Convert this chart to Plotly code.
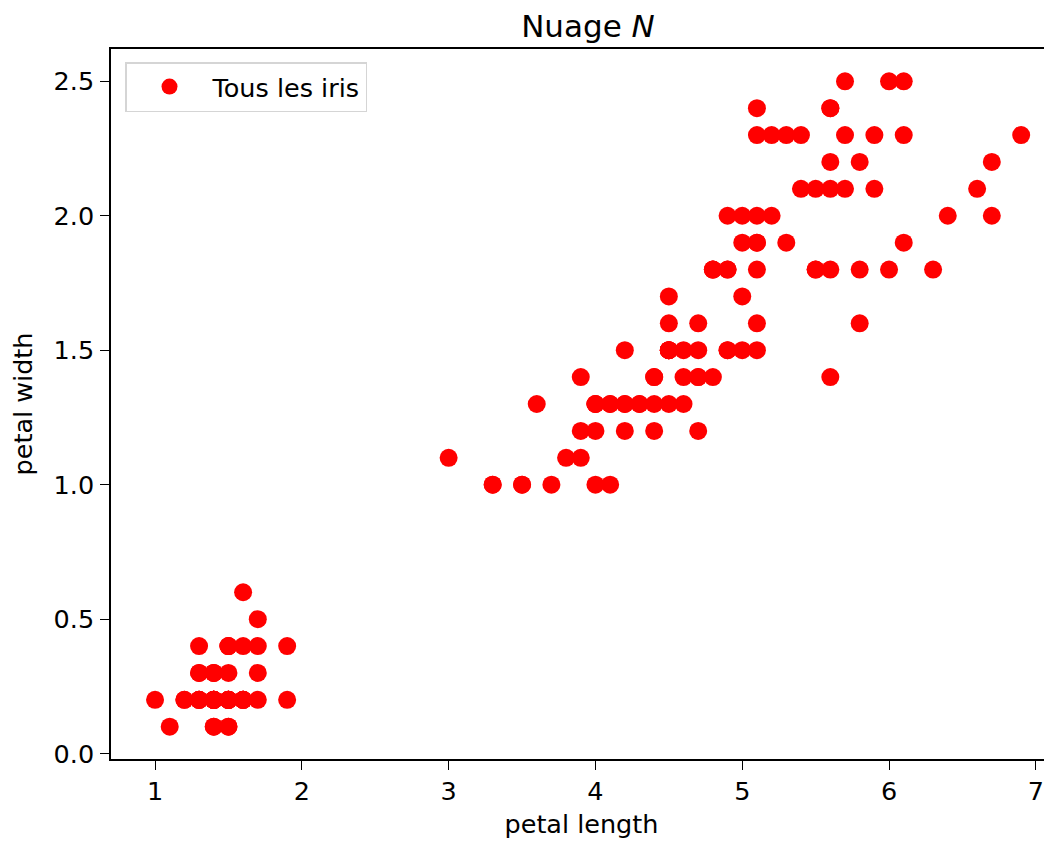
import plotly.graph_objects as go

# Iris dataset: petal length / petal width (150 flowers)
petal_length = [
    1.4, 1.4, 1.3, 1.5, 1.4, 1.7, 1.4, 1.5, 1.4, 1.5,
    1.5, 1.6, 1.4, 1.1, 1.2, 1.5, 1.3, 1.4, 1.7, 1.5,
    1.7, 1.5, 1.0, 1.7, 1.9, 1.6, 1.6, 1.5, 1.4, 1.6,
    1.6, 1.5, 1.5, 1.4, 1.5, 1.2, 1.3, 1.4, 1.3, 1.5,
    1.3, 1.3, 1.3, 1.6, 1.9, 1.4, 1.6, 1.4, 1.5, 1.4,
    4.7, 4.5, 4.9, 4.0, 4.6, 4.5, 4.7, 3.3, 4.6, 3.9,
    3.5, 4.2, 4.0, 4.7, 3.6, 4.4, 4.5, 4.1, 4.5, 3.9,
    4.8, 4.0, 4.9, 4.7, 4.3, 4.4, 4.8, 5.0, 4.5, 3.5,
    3.8, 3.7, 3.9, 5.1, 4.5, 4.5, 4.7, 4.4, 4.1, 4.0,
    4.4, 4.6, 4.0, 3.3, 4.2, 4.2, 4.2, 4.3, 3.0, 4.1,
    6.0, 5.1, 5.9, 5.6, 5.8, 6.6, 4.5, 6.3, 5.8, 6.1,
    5.1, 5.3, 5.5, 5.0, 5.1, 5.3, 5.5, 6.7, 6.9, 5.0,
    5.7, 4.9, 6.7, 4.9, 5.7, 6.0, 4.8, 4.9, 5.6, 5.8,
    6.1, 6.4, 5.6, 5.1, 5.6, 6.1, 5.6, 5.5, 4.8, 5.4,
    5.6, 5.1, 5.1, 5.9, 5.7, 5.2, 5.0, 5.2, 5.4, 5.1,
]
petal_width = [
    0.2, 0.2, 0.2, 0.2, 0.2, 0.4, 0.3, 0.2, 0.2, 0.1,
    0.2, 0.2, 0.1, 0.1, 0.2, 0.4, 0.4, 0.3, 0.3, 0.3,
    0.2, 0.4, 0.2, 0.5, 0.2, 0.2, 0.4, 0.2, 0.2, 0.2,
    0.2, 0.4, 0.1, 0.2, 0.2, 0.2, 0.2, 0.1, 0.2, 0.2,
    0.3, 0.3, 0.2, 0.6, 0.4, 0.3, 0.2, 0.2, 0.2, 0.2,
    1.4, 1.5, 1.5, 1.3, 1.5, 1.3, 1.6, 1.0, 1.3, 1.4,
    1.0, 1.5, 1.0, 1.4, 1.3, 1.4, 1.5, 1.0, 1.5, 1.1,
    1.8, 1.3, 1.5, 1.2, 1.3, 1.4, 1.4, 1.7, 1.5, 1.0,
    1.1, 1.0, 1.2, 1.6, 1.5, 1.6, 1.5, 1.3, 1.3, 1.3,
    1.2, 1.4, 1.2, 1.0, 1.3, 1.2, 1.3, 1.3, 1.1, 1.3,
    2.5, 1.9, 2.1, 1.8, 2.2, 2.1, 1.7, 1.8, 1.8, 2.5,
    2.0, 1.9, 2.1, 2.0, 2.4, 2.3, 1.8, 2.2, 2.3, 1.5,
    2.3, 2.0, 2.0, 1.8, 2.1, 1.8, 1.8, 1.8, 2.1, 1.6,
    1.9, 2.0, 2.2, 1.5, 1.4, 2.3, 2.4, 1.8, 1.8, 2.1,
    2.4, 2.3, 1.9, 2.3, 2.5, 2.3, 1.9, 2.0, 2.3, 1.8,
]
series_name = "Tous les iris"
x_ticks = [1, 2, 3, 4, 5, 6, 7]
y_ticks = [0.0, 0.5, 1.0, 1.5, 2.0, 2.5]

# page body has an 8px margin, so the figure is 1044x835 inside 1052x843
W, H = 1044, 835
FONT = "DejaVu Sans"
FS = 25.5

fig = go.Figure()
fig.add_trace(go.Scatter(
    x=petal_length, y=petal_width, mode="markers", name=series_name,
    marker=dict(color="#ff0000", size=18, line=dict(width=0)),
))

axis_common = dict(
    showgrid=False, zeroline=False, showline=True, linecolor="black",
    linewidth=1.5, ticks="outside", ticklen=9, tickwidth=1.3,
    tickcolor="black", tickfont=dict(family=FONT, size=FS, color="black"),
)

fig.update_layout(
    width=W, height=H,
    margin=dict(l=103, r=0, t=41, b=84, autoexpand=False),
    paper_bgcolor="white", plot_bgcolor="white",
    font=dict(family=FONT, color="black"),
    title=dict(text="Nuage <i>N</i>", x=580 / W, xanchor="center",
               y=1 - 18 / H, yanchor="middle", xref="container",
               yref="container",
               font=dict(family=FONT, size=31, color="black")),
    xaxis=dict(range=[0.70, 7.11], tickvals=x_ticks, mirror=True,
               ticklabelstandoff=0,
               title=dict(text="petal length", standoff=10,
                          font=dict(family=FONT, size=FS, color="black")),
               **axis_common),
    yaxis=dict(range=[-0.02, 2.62], tickvals=y_ticks, tickformat=".1f",
               ticklabelstandoff=1, mirror=False,
               title=dict(text="petal width", standoff=27,
                          font=dict(family=FONT, size=FS, color="black")),
               **axis_common),
    legend=dict(x=14 / 941, y=1 - 13 / 710, xanchor="left", yanchor="top",
                bgcolor="rgba(255,255,255,0.8)", bordercolor="#d5d5d5",
                borderwidth=1.5, itemwidth=76,
                font=dict(family=FONT, size=FS, color="black")),
    showlegend=True,
)

fig.write_html("out.html")
